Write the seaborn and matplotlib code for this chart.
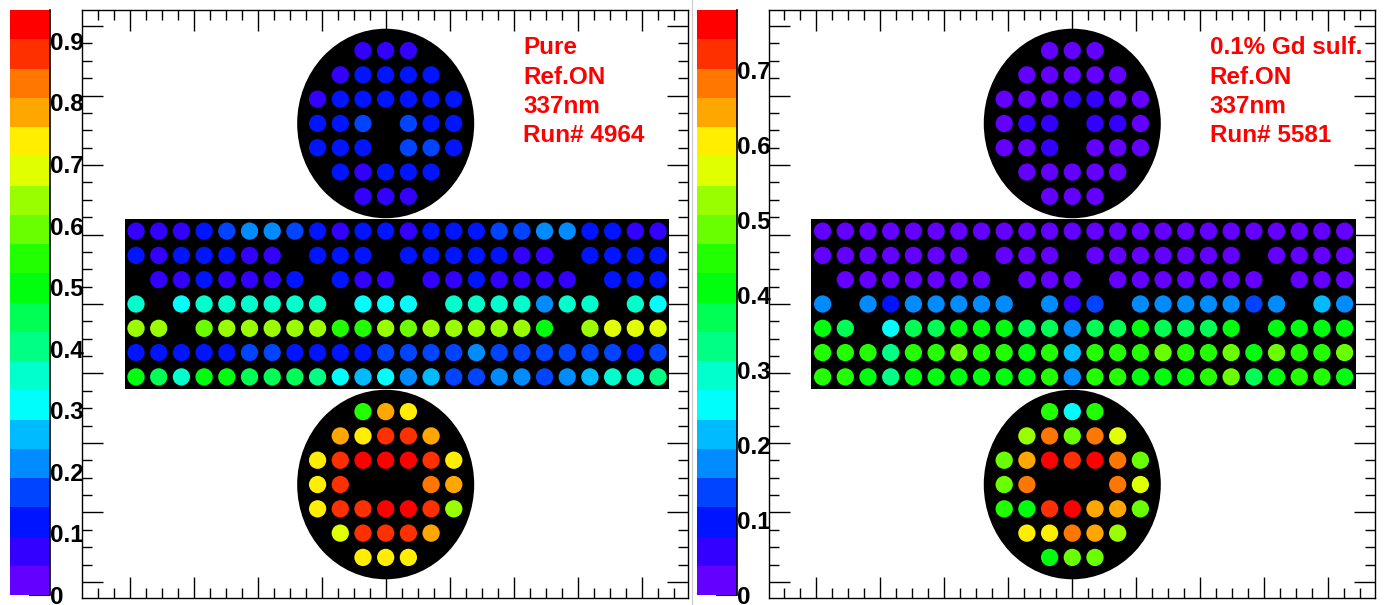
import colorsys

import numpy as np
import pandas as pd
import matplotlib
matplotlib.use("Agg")
import matplotlib.pyplot as plt
from matplotlib.colors import ListedColormap, Normalize
from matplotlib.patches import Rectangle, Ellipse
from matplotlib.lines import Line2D
from matplotlib.ticker import MultipleLocator, FixedLocator
import seaborn as sns

sns.set_style("white")
plt.rcParams["font.family"] = ["Liberation Sans", "DejaVu Sans"]
plt.rcParams["text.color"] = "black"
plt.rcParams["xtick.color"] = "black"
plt.rcParams["ytick.color"] = "black"
plt.rcParams["xtick.labelcolor"] = "black"
plt.rcParams["ytick.labelcolor"] = "black"

N = None

# ---------------- Pure water, run 4964 ----------------
pure_top = [
    [N, N, .07, .07, .07, N, N],
    [N, .07, .12, .12, .12, .12, N],
    [.07, .12, .12, .12, .12, .12, .12],
    [.12, .12, .17, N, .17, .12, .12],
    [.12, .12, .12, N, .17, .17, .12],
    [N, .12, .07, .12, .12, .12, N],
    [N, N, .07, .07, .07, N, N],
]
pure_side = [
    [.07, .07, .07, .12, .17, .21, .21, .17, .12, .07, .12, .12,
     .07, .12, .12, .12, .17, .17, .21, .21, .12, .12, .07, .07],
    [.12, .07, .12, .12, .12, .07, .07, N, .12, .12, .12, N,
     .12, .12, .12, .12, .12, .07, .07, N, .12, .12, .12, .12],
    [N, .07, .07, .12, .07, .07, .07, .12, N, .12, .07, .07,
     N, .07, .07, .12, .07, .07, .07, .07, N, .12, .12, .12],
    [.36, N, .31, .36, .36, .36, .36, .36, .36, N, .31, .31,
     .31, N, .36, .36, .36, .36, .21, .36, .36, N, .36, .31],
    [.64, .64, N, .59, .64, .64, .64, .64, .64, .55, .55, .64,
     .59, .64, .64, .64, .64, .64, .50, N, .64, .69, .69, .69],
    [.12, .12, .12, .12, .12, .17, .17, .12, .12, .12, .12, .17,
     .17, .17, .17, .21, .17, .17, .17, .17, .17, .17, .12, .17],
    [.50, .45, .36, .50, .50, .45, .45, .45, .40, .31, .26, .31,
     .21, .26, .17, .17, .21, .21, .17, .21, .26, .36, .36, .40],
]
pure_bottom = [
    [N, N, .55, .78, .74, N, N],
    [N, .78, .74, .88, .88, .78, N],
    [.74, .88, .93, .95, .93, .88, .74],
    [.74, .88, N, N, N, .83, .78],
    [.74, .88, .88, .93, .93, .88, .64],
    [N, .69, .88, .88, .88, .78, N],
    [N, N, .74, .74, .74, N, N],
]
pure_text = ["Pure", "Ref.ON", "337nm", "Run# 4964"]

# ---------------- 0.1% Gd sulfate, run 5581 ----------------
gd_top = [
    [N, N, .03, .02, .03, N, N],
    [N, .03, .03, .03, .03, .02, N],
    [.02, .03, .03, .05, .05, .03, .02],
    [.03, .05, .05, N, .05, .05, .03],
    [.03, .03, .05, N, .03, .03, .02],
    [N, .03, .03, .03, .03, .03, N],
    [N, N, .03, .02, .03, N, N],
]
gd_side = [
    [.02, .03, .03, .03, .03, .02, .03, .03, .03, .03, .03, .02,
     .03, .03, .02, .03, .03, .03, .03, .03, .02, .03, .03, .03],
    [.03, .03, .03, .03, .03, .03, .02, N, .03, .03, .03, N,
     .03, .03, .03, .03, .03, .03, .03, N, .03, .03, .03, .03],
    [N, .03, .03, .03, .03, .03, .03, .03, N, .03, .03, .03,
     N, .03, .03, .03, .03, .03, .03, .03, N, .03, .03, .03],
    [.18, N, .18, .10, .18, .18, .18, .18, .18, N, .18, .06,
     .14, N, .18, .18, .18, .18, .18, .14, .18, N, .22, .18],
    [.41, .37, N, .25, .37, .37, .41, .41, .41, .37, .37, .18,
     .37, .37, .41, .37, .37, .37, .41, N, .41, .41, .41, .41],
    [.45, .45, .45, .33, .45, .45, .49, .45, .45, .41, .45, .22,
     .45, .45, .45, .49, .45, .45, .49, .41, .49, .45, .45, .49],
    [.45, .45, .41, .33, .41, .41, .41, .41, .41, .41, .45, .18,
     .45, .45, .41, .41, .41, .45, .49, .37, .41, .45, .45, .41],
]
gd_bottom = [
    [N, N, .45, .25, .45, N, N],
    [N, .53, .68, .49, .68, .57, N],
    [.49, .65, .76, .72, .78, .68, .49],
    [.49, .68, N, N, N, .68, .57],
    [.45, .41, .72, .76, .65, .65, .49],
    [N, .61, .61, .68, .65, .53, N],
    [N, N, .41, .49, .49, N, N],
]
gd_text = ["0.1% Gd sulf.", "Ref.ON", "337nm", "Run# 5581"]

# ---------------- layout ----------------
W, H = 1386, 605
PANEL_SHIFT = 686.6          # px between the two pads
CAP_Y = 7.43                 # cap centre, in PMT-spacing units
CAP_R = 3.9
XLIM = (-13.38, 13.32)
YLIM = (-12.10, 12.10)
TICK_X, TICK_Y = 2.82, 2.86  # axis divisions in PMT-spacing units


def root_palette(n_levels=20, n_colors=50):
    """ROOT 'pretty' violet->red palette sampled on n_levels contours."""
    cols = []
    for k in range(n_levels):
        idx = int((k + 0.99) * n_colors / n_levels)
        hue = 280.0 - (idx + 1) * 280.0 / n_colors
        cols.append(colorsys.hls_to_rgb(hue / 360.0, 0.5, 1.0))
    return ListedColormap(cols)


CMAP = root_palette()


def to_frame(top, side, bottom):
    rows = []
    n_cols = len(side[0])
    centre = (n_cols - 2) // 2
    for r, row in enumerate(side):
        for c, v in enumerate(row):
            if v is not None:
                rows.append((c - centre, (len(side) - 1) / 2 - r, v))
    for cap, yc in ((top, CAP_Y), (bottom, -CAP_Y)):
        half = (len(cap) - 1) / 2
        for r, row in enumerate(cap):
            for c, v in enumerate(row):
                if v is not None:
                    rows.append((c - half, yc + half - r, v))
    return pd.DataFrame(rows, columns=["x", "y", "v"]), n_cols, len(side), centre


def draw_panel(fig, x_off, top, side, bottom, text_lines):
    df, n_cols, n_rows, centre = to_frame(top, side, bottom)
    zmax = df["v"].max()

    ax = fig.add_axes([(82 + x_off) / W, (H - 598) / H, 606 / W, 588 / H])
    ax.add_patch(Rectangle((-centre - 0.5, -n_rows / 2), n_cols, n_rows,
                           facecolor="black", edgecolor="none", zorder=1))
    for yc in (CAP_Y, -CAP_Y):
        ax.add_patch(Ellipse((0, yc), 2 * CAP_R, 2 * CAP_R,
                             facecolor="black", edgecolor="none", zorder=1))
    sns.scatterplot(data=df, x="x", y="y", hue="v", palette=CMAP,
                    hue_norm=(0, zmax), s=155, linewidth=0, legend=False,
                    ax=ax, zorder=3)
    ax.set_xlim(*XLIM)
    ax.set_ylim(*YLIM)
    ax.set_xlabel("")
    ax.set_ylabel("")
    ax.xaxis.set_major_locator(MultipleLocator(TICK_X))
    ax.xaxis.set_minor_locator(MultipleLocator(TICK_X / 4))
    ax.yaxis.set_major_locator(MultipleLocator(TICK_Y))
    ax.yaxis.set_minor_locator(MultipleLocator(TICK_Y / 4))
    ax.tick_params(which="both", direction="in", top=True, right=True,
                   bottom=True, left=True, labelbottom=False, labelleft=False,
                   color="black", width=1)
    ax.tick_params(which="major", length=15)
    ax.tick_params(which="minor", length=7.5)
    for sp in ax.spines.values():
        sp.set_visible(True)
        sp.set_color("black")
        sp.set_linewidth(1)

    # palette axis
    cax = fig.add_axes([(10 + x_off) / W, (H - 595) / H, 40 / W, 585 / H])
    levels = np.linspace(0, zmax, CMAP.N + 1)
    mids = 0.5 * (levels[1:] + levels[:-1])
    cax.pcolormesh([0, 1], levels, mids.reshape(-1, 1), cmap=CMAP,
                   norm=Normalize(0, zmax), shading="flat")
    cax.set_xlim(0, 1)
    cax.set_ylim(0, zmax)
    cax.set_xticks([])
    ticks = np.arange(0, zmax + 1e-9, 0.1)
    cax.yaxis.set_major_locator(FixedLocator(ticks))
    cax.set_yticklabels([f"{t:g}" for t in ticks])
    cax.yaxis.tick_right()
    cax.tick_params(axis="y", direction="in", length=15, width=1.5,
                    labelsize=17.5, pad=0, color="black", labelcolor="black")
    for lbl in cax.get_yticklabels():
        lbl.set_fontweight("bold")
    for name, sp in cax.spines.items():
        sp.set_visible(name == "right")
    cax.spines["right"].set_linewidth(1.2)
    cax.spines["right"].set_color("black")

    for i, line in enumerate(text_lines):
        fig.text((523 + x_off) / W, 1 - (54 + 29.5 * i) / H, line,
                 color="red", fontsize=17.5, fontweight="bold",
                 ha="left", va="baseline")


fig = plt.figure(figsize=(W / 100, H / 100), dpi=100)
fig.patch.set_facecolor("white")
draw_panel(fig, 0, pure_top, pure_side, pure_bottom, pure_text)
draw_panel(fig, PANEL_SHIFT, gd_top, gd_side, gd_bottom, gd_text)
# thin border between the two pads
fig.add_artist(Line2D([691.5 / W, 691.5 / W], [0, 1], color="#c8c8c8",
                      linewidth=0.8, transform=fig.transFigure))
fig.savefig("out.png", dpi=100, facecolor="white")
